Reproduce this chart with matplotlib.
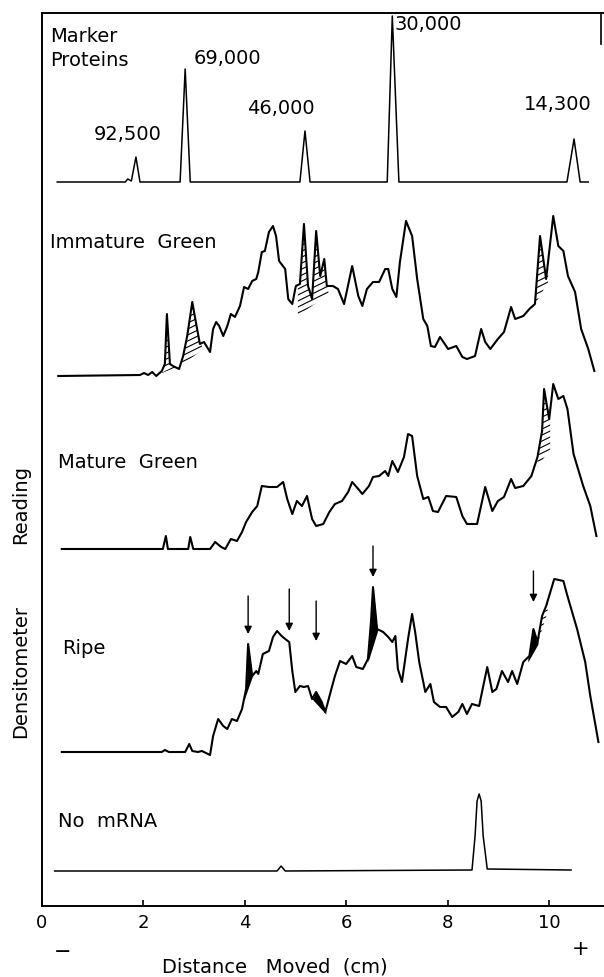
import numpy as np
import matplotlib.pyplot as plt
from matplotlib.patches import Polygon

# Densitometer traces: distance moved (cm) and reading above each trace's own baseline
marker_x = [0.31, 1.65, 1.70, 1.77, 1.86, 1.94, 2.73, 2.83, 2.93, 5.09, 5.19, 5.29,
            6.81, 6.91, 7.04, 10.35, 10.49, 10.61, 10.77]
marker_y = [0, 0, 3, 1, 25, 0, 0, 113, 0, 0, 51, 0, 0, 166, 0, 0, 43, 0, 0]

immature_x = [0.33, 1.94, 2.02, 2.10, 2.18, 2.26, 2.37, 2.43, 2.47, 2.53, 2.59, 2.71, 2.79,
              2.87, 2.97, 3.04, 3.12, 3.20, 3.32, 3.38, 3.44, 3.50, 3.58, 3.66, 3.73, 3.81,
              3.91, 3.99, 4.07, 4.15, 4.23, 4.27, 4.34, 4.40, 4.48, 4.56, 4.62, 4.68, 4.80,
              4.86, 4.94, 5.01, 5.09, 5.17, 5.25, 5.33, 5.41, 5.49, 5.57, 5.62, 5.74, 5.84,
              5.96, 6.12, 6.24, 6.32, 6.41, 6.53, 6.65, 6.77, 6.83, 6.91, 6.99, 7.06, 7.18,
              7.30, 7.40, 7.52, 7.60, 7.67, 7.75, 7.85, 8.01, 8.17, 8.29, 8.38, 8.54, 8.66,
              8.74, 8.84, 8.99, 9.11, 9.25, 9.33, 9.49, 9.61, 9.72, 9.82, 9.94, 10.08, 10.18,
              10.28, 10.37, 10.51, 10.63, 10.77, 10.89]
immature_y = [0, 1, 3, 1, 4, 0, 5, 12, 62, 12, 10, 7, 20,
              40, 74, 54, 32, 34, 24, 47, 54, 50, 40, 50, 62, 59,
              70, 89, 87, 95, 97, 104, 124, 125, 144, 150, 140, 115, 107,
              77, 72, 90, 92, 152, 90, 77, 145, 100, 117, 90, 90, 87,
              72, 110, 80, 70, 87, 94, 94, 107, 107, 87, 79, 114, 155,
              140, 97, 57, 50, 30, 29, 39, 27, 30, 19, 17, 20, 47,
              34, 27, 37, 44, 69, 57, 60, 67, 72, 140, 97, 160, 130,
              125, 100, 84, 47, 27, 5]

mature_x = [0.40, 2.39, 2.45, 2.49, 2.89, 2.93, 2.99, 3.32, 3.42, 3.54, 3.62, 3.73, 3.85,
            3.95, 4.03, 4.15, 4.25, 4.34, 4.48, 4.64, 4.76, 4.84, 4.94, 5.03, 5.13, 5.23,
            5.33, 5.41, 5.55, 5.67, 5.78, 5.92, 6.04, 6.12, 6.24, 6.32, 6.45, 6.53, 6.65,
            6.77, 6.83, 6.91, 7.02, 7.14, 7.22, 7.30, 7.40, 7.52, 7.62, 7.71, 7.81, 7.97,
            8.17, 8.29, 8.38, 8.58, 8.74, 8.88, 8.99, 9.11, 9.25, 9.33, 9.49, 9.65, 9.77,
            9.86, 9.90, 10.00, 10.08, 10.18, 10.28, 10.36, 10.48, 10.67, 10.81, 10.93]
mature_y = [0, 0, 13, 0, 0, 12, 0, 0, 7, 2, 0, 10, 8,
            17, 27, 37, 43, 63, 62, 62, 67, 50, 35, 48, 43, 53,
            30, 23, 25, 37, 45, 48, 57, 67, 60, 55, 63, 72, 73,
            78, 73, 88, 77, 92, 115, 113, 73, 50, 52, 38, 37, 53,
            52, 33, 25, 25, 62, 38, 48, 52, 70, 61, 63, 73, 92,
            118, 160, 130, 165, 150, 153, 140, 95, 63, 43, 13]

ripe_x = [0.40, 2.37, 2.43, 2.51, 2.83, 2.91, 2.97, 3.08, 3.16, 3.32, 3.38, 3.48, 3.58,
          3.66, 3.75, 3.85, 3.95, 4.03, 4.07, 4.15, 4.23, 4.27, 4.36, 4.48, 4.56, 4.64,
          4.73, 4.80, 4.88, 4.94, 5.00, 5.09, 5.17, 5.25, 5.33, 5.41, 5.52, 5.59, 5.71,
          5.78, 5.88, 6.00, 6.12, 6.20, 6.33, 6.43, 6.49, 6.53, 6.61, 6.73, 6.83, 6.91,
          6.97, 7.02, 7.10, 7.22, 7.30, 7.36, 7.44, 7.56, 7.66, 7.73, 7.85, 7.97, 8.09,
          8.21, 8.29, 8.38, 8.48, 8.62, 8.78, 8.88, 8.96, 9.07, 9.19, 9.27, 9.37, 9.49,
          9.61, 9.69, 9.77, 9.86, 9.94, 10.10, 10.28, 10.36, 10.55, 10.71, 10.81, 10.97]
ripe_y = [0, 0, 2, 0, 0, 8, 1, 0, 1, -3, 16, 33, 26,
          23, 33, 31, 43, 63, 108, 76, 81, 78, 98, 101, 115, 121,
          116, 113, 110, 81, 60, 66, 65, 66, 53, 60, 50, 40, 63,
          76, 91, 88, 96, 85, 83, 93, 130, 165, 123, 120, 115, 110,
          116, 83, 70, 113, 138, 120, 90, 60, 68, 50, 45, 45, 35,
          40, 48, 38, 48, 46, 85, 60, 63, 81, 70, 81, 68, 90,
          96, 123, 110, 136, 146, 173, 171, 156, 123, 90, 56, 10]

nomrna_x = [0.26, 4.64, 4.72, 4.80, 8.48, 8.54, 8.58, 8.62, 8.66, 8.70, 8.78, 10.43]
nomrna_y = [0, 0, 5, 0, 1, 35, 70, 77, 70, 35, 2, 1]

# vertical offset of each trace above the x axis
offsets = {'marker': 724, 'immature': 530, 'mature': 357, 'ripe': 154, 'nomrna': 35}

# bands marked by hatching / black fill: (x start, x end, lower line start, lower line end)
immature_hatch = [(2.37, 2.62, 3, 8), (2.64, 3.16, 6, 26), (5.05, 5.65, 60, 82), (9.70, 9.98, 70, 94)]
mature_hatch = [(9.77, 10.02, 82, 100)]
ripe_black = [(3.99, 4.17, 52, 78), (5.33, 5.60, 53, 38), (6.43, 6.62, 90, 121), (9.58, 9.78, 90, 108)]
ripe_hatch = [(9.76, 9.97, 106, 140)]

# arrows over the ripe trace: (x, top, bottom) in reading units
ripe_arrows = [(4.07, 310, 272), (4.88, 317, 275), (5.41, 305, 265), (6.53, 360, 329), (9.69, 335, 304)]

peak_labels = ['92,500', '69,000', '46,000', '30,000', '14,300']
peak_label_pos = [(1.69, 772), (3.67, 849), (4.72, 799), (7.62, 882), (10.16, 802)]

plt.rcParams['font.family'] = ['DejaVu Sans']

fig = plt.figure(figsize=(6.04, 9.78), dpi=100)
ax = fig.add_axes([41.5 / 604, 71 / 978, 1 - 41.5 / 604, (907 - 14) / 978])
ax.set_xlim(0, 11.08)
ax.set_ylim(0, 893)


def trace(x, y, off, lw=1.5):
    x = np.asarray(x, float)
    y = np.asarray(y, float) + off
    ax.plot(x, y, color='black', lw=lw, solid_joinstyle='round')
    return x, y


def band_poly(x, y, x0, x1, b0, b1, off):
    xs = np.linspace(x0, x1, 120)
    up = np.interp(xs, x, y)
    lo = np.interp(xs, [x0, x1], [b0 + off, b1 + off])
    return xs, up, lo


def hatch(x, y, regions, off):
    for x0, x1, b0, b1 in regions:
        xs, up, lo = band_poly(x, y, x0, x1, b0, b1, off)
        verts = np.vstack([np.column_stack([xs, up]), np.column_stack([xs[::-1], lo[::-1]])])
        poly = Polygon(verts, closed=True, facecolor='none', edgecolor='none')
        ax.add_patch(poly)
        # lines rising gently to the right, about 6 units apart
        slope = 25.0
        ymin, ymax = lo.min() - slope * (x1 - x0), up.max() + 5
        for c in np.arange(ymin, ymax, 6.0):
            ln, = ax.plot([x0 - 0.05, x1 + 0.05], [c - slope * 0.05, c + slope * (x1 - x0 + 0.05)],
                          color='black', lw=0.8)
            ln.set_clip_path(poly)


def blacken(x, y, regions, off):
    for x0, x1, b0, b1 in regions:
        xs, up, lo = band_poly(x, y, x0, x1, b0, b1, off)
        ax.fill_between(xs, lo, up, where=up >= lo, color='black', lw=0)


trace(marker_x, marker_y, offsets['marker'], lw=1.1)
ix, iy = trace(immature_x, immature_y, offsets['immature'])
mx, my = trace(mature_x, mature_y, offsets['mature'])
rx, ry = trace(ripe_x, ripe_y, offsets['ripe'])
trace(nomrna_x, nomrna_y, offsets['nomrna'], lw=1.1)

hatch(ix, iy, immature_hatch, offsets['immature'])
hatch(mx, my, mature_hatch, offsets['mature'])
blacken(rx, ry, ripe_black, offsets['ripe'])
hatch(rx, ry, ripe_hatch, offsets['ripe'])

for xa, ytop, ybot in ripe_arrows:
    ax.annotate('', xy=(xa, ybot), xytext=(xa, ytop),
                arrowprops=dict(arrowstyle='-|>', color='black', lw=1.0,
                                mutation_scale=11, shrinkA=0, shrinkB=0))

fs = 14
for lab, (px, py) in zip(peak_labels, peak_label_pos):
    ax.text(px, py, lab, ha='center', va='center', fontsize=fs)

ax.text(0.17, 871, 'Marker', ha='left', va='center', fontsize=fs)
ax.text(0.17, 846, 'Proteins', ha='left', va='center', fontsize=fs)
ax.text(0.17, 664, 'Immature  Green', ha='left', va='center', fontsize=fs)
ax.text(0.33, 444, 'Mature  Green', ha='left', va='center', fontsize=fs)
ax.text(0.40, 259, 'Ripe', ha='left', va='center', fontsize=fs)
ax.text(0.33, 85, 'No  mRNA', ha='left', va='center', fontsize=fs)

ax.spines['right'].set_visible(False)
for s in ['left', 'bottom', 'top']:
    ax.spines[s].set_linewidth(1.4)
ax.axvline(11.02, ymin=0.965, ymax=1.0, color='black', lw=1.2)

ax.set_xticks([0, 2, 4, 6, 8, 10])
ax.tick_params(axis='x', direction='in', length=4, width=1.2, labelsize=13, pad=5)
ax.set_yticks([])

fig.text(21 / 604, 1 - 672 / 978, 'Densitometer', rotation=90, ha='center', va='center', fontsize=fs)
fig.text(21 / 604, 1 - 505 / 978, 'Reading', rotation=90, ha='center', va='center', fontsize=fs)
fig.text(63 / 604, 1 - 952 / 978, '\u2212', ha='center', va='center', fontsize=15)
fig.text(581 / 604, 1 - 949 / 978, '+', ha='center', va='center', fontsize=15)
fig.text(275 / 604, 1 - 967 / 978, 'Distance   Moved  (cm)', ha='center', va='center', fontsize=fs)

fig.savefig('out.png', dpi=100)
